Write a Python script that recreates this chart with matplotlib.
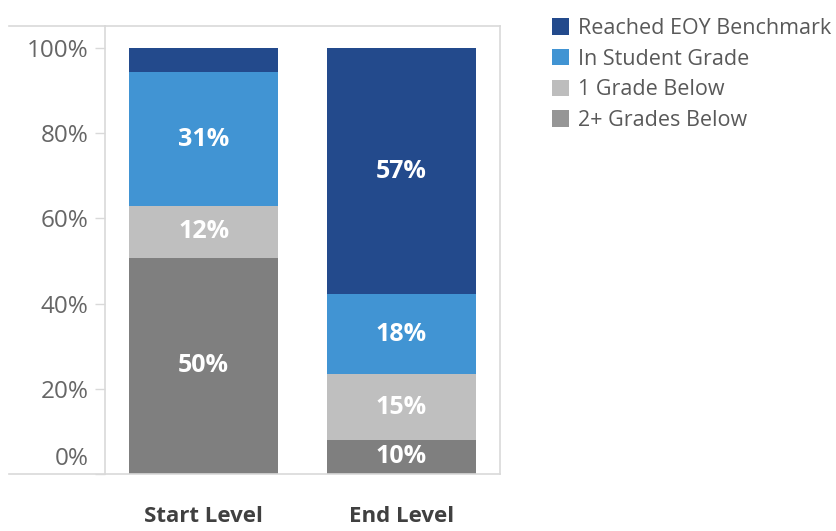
import matplotlib
matplotlib.use("Agg")
import matplotlib.pyplot as plt
from matplotlib.patches import Patch
from matplotlib.lines import Line2D
from matplotlib.transforms import ScaledTranslation

plt.rcParams['font.family'] = ['Open Sans', 'DejaVu Sans']

# donnees
categories = ["Start Level", "End Level"]
series = ["2+ Grades Below", "1 Grade Below", "In Student Grade", "Reached EOY Benchmark"]
valeurs = {
    "2+ Grades Below": [50.8, 8.0],
    "1 Grade Below": [12.1, 15.4],
    "In Student Grade": [31.5, 18.8],
    "Reached EOY Benchmark": [5.6, 57.8],
}
etiquettes = {
    "2+ Grades Below": ["50%", "10%"],
    "1 Grade Below": ["12%", "15%"],
    "In Student Grade": ["31%", "18%"],
    "Reached EOY Benchmark": ["", "57%"],
}
couleurs = {
    "2+ Grades Below": "#7f7f7f",
    "1 Grade Below": "#bfbfbf",
    "In Student Grade": "#4194d3",
    "Reached EOY Benchmark": "#234a8c",
}
couleurs_legende = {
    "2+ Grades Below": "#969696",
    "1 Grade Below": "#bdbdbd",
    "In Student Grade": "#4194d3",
    "Reached EOY Benchmark": "#234a8c",
}
yticks = [0, 20, 40, 60, 80, 100]

W, H = 837, 531
fig = plt.figure(figsize=(W / 100, H / 100), dpi=100)
ax = fig.add_axes([105 / W, 1 - 474 / H, 395 / W, 448 / H])

x = range(len(categories))
bas = [0.0, 0.0]
for s in series:
    v = valeurs[s]
    bars = ax.bar(x, v, bottom=bas, width=0.753, color=couleurs[s], edgecolor="none")
    for i, b in enumerate(bars):
        if etiquettes[s][i]:
            ax.text(b.get_x() + b.get_width() / 2, bas[i] + v[i] / 2, etiquettes[s][i],
                    ha="center", va="center", color="white", fontsize=18, fontweight="bold")
    bas = [bas[i] + v[i] for i in range(len(v))]

ax.set_xlim(-0.5, 1.5)
ax.set_ylim(0, 105.2)
ax.set_yticks(yticks)
ax.set_yticklabels([f"{t}%" for t in yticks])
ax.set_xticks(list(x))
ax.set_xticklabels(categories, fontweight="bold", color="#404040", fontsize=16)
ax.tick_params(axis="x", length=0, pad=23)
ax.tick_params(axis="y", length=7, width=1, color="#d9d9d9", labelcolor="#666666",
               labelsize=17.5, pad=5)
for sp in ax.spines.values():
    sp.set_color("#d9d9d9")
    sp.set_linewidth(1.2)

# le label 0% est decale vers le haut
lab0 = ax.get_yticklabels()[0]
lab0.set_transform(lab0.get_transform() + ScaledTranslation(0, 18 / 100, fig.dpi_scale_trans))

# lignes horizontales qui depassent a gauche
for yy in (26, 474):
    fig.add_artist(Line2D([9 / W, 105 / W], [1 - yy / H, 1 - yy / H], color="#d9d9d9", lw=1.2))

handles = [Patch(facecolor=couleurs_legende[s], edgecolor="none") for s in series[::-1]]
fig.legend(handles, series[::-1], loc="upper left", bbox_to_anchor=(552 / W, 1 - 18 / H),
           frameon=False, fontsize=15.5, borderpad=0, borderaxespad=0, handlelength=0.8,
           handleheight=0.8, handletextpad=0.4, labelspacing=0.45, labelcolor="#595959")

fig.savefig("out.png", dpi=100)
